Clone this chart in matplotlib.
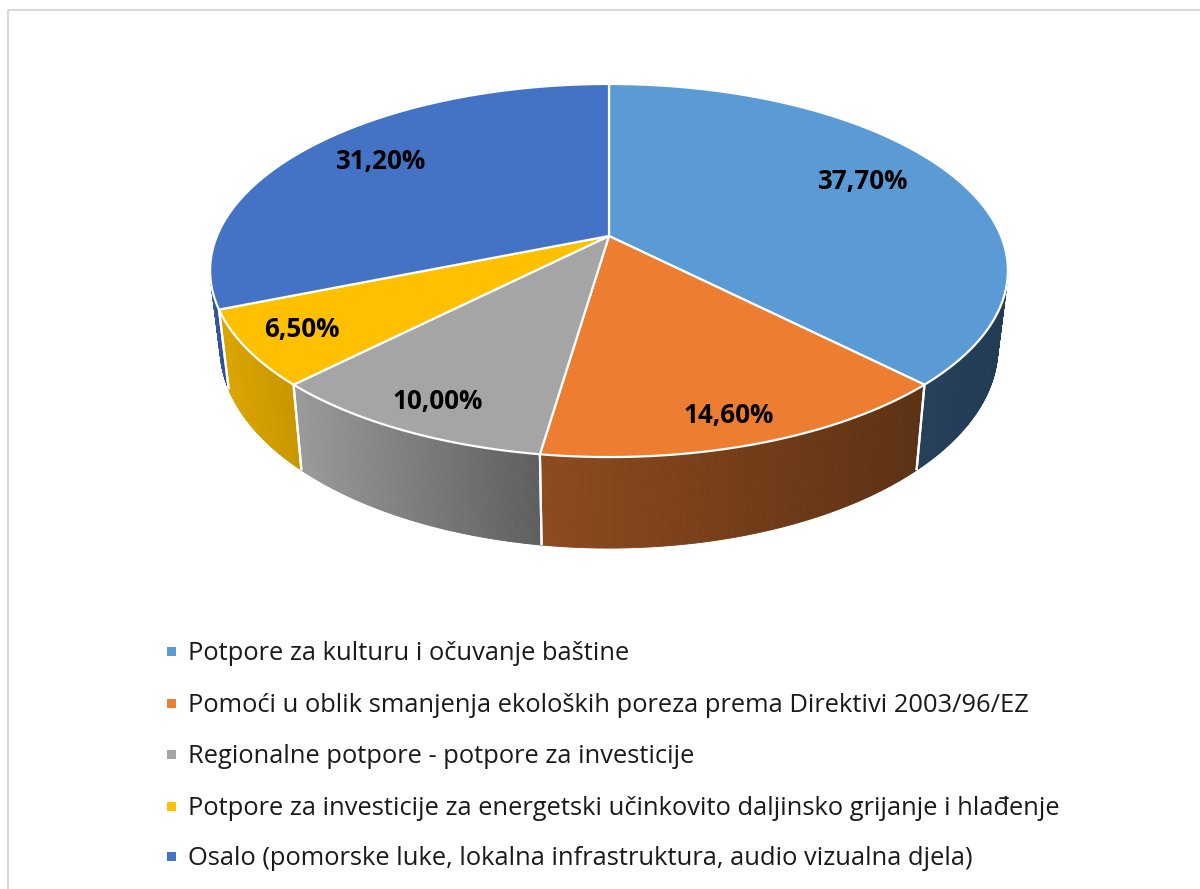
import numpy as np
import matplotlib
matplotlib.use("Agg")
import matplotlib.pyplot as plt
from matplotlib.patches import Polygon, Rectangle
from matplotlib.colors import to_rgb

# ---------------- data ----------------
categories = [
    "Potpore za kulturu i očuvanje baštine",
    "Pomoći u oblik smanjenja ekoloških poreza prema Direktivi 2003/96/EZ",
    "Regionalne potpore - potpore za investicije",
    "Potpore za investicije za energetski učinkovito daljinsko grijanje i hlađenje",
    "Osalo (pomorske luke, lokalna infrastruktura, audio vizualna djela)",
]
values = [37.7, 14.6, 10.0, 6.5, 31.2]
value_labels = ["37,70%", "14,60%", "10,00%", "6,50%", "31,20%"]

# ---------------- styles ----------------
top_colors = ["#5B9BD5", "#ED7D31", "#A5A5A5", "#FFC000", "#4472C4"]
wall_light = ["#253F5A", "#8E4A1F", "#9A9A9A", "#DCA600", "#3358A0"]
wall_dark = ["#233C56", "#5C3113", "#5E5E5E", "#C99600", "#2B4C8C"]
label_pos = [(862, 181), (729, 415), (438, 402), (302, 330), (380, 162)]

# ---------------- layout (pixel space) ----------------
W, H = 1200, 889
CX, CY = 609.0, 236.0      # apex of the pie
A, B, K = 392.0, 136.5, 0.185
DEPTH = 74.2
XS = 0.975
VIS_LO, VIS_HI = 100.7, 259.3   # visible front arc (deg clockwise from top)

fig = plt.figure(figsize=(W / 100, H / 100), dpi=100)
ax = fig.add_axes([0, 0, 1, 1])
ax.set_xlim(0, W)
ax.set_ylim(H, 0)
ax.axis("off")


def top_pt(theta, r=1.0):
    t = np.radians(theta)
    u = r * np.sin(t)
    v = r * np.cos(t)
    w = 1 + K * v
    return CX + A * u / w, (CY - B * v) / w


def bot_pt(theta):
    x, y = top_pt(theta)
    v = np.cos(np.radians(theta))
    return CX + (x - CX) * XS, y + DEPTH / (1 + K * v)


def mix(c1, c2, f):
    a = np.array(to_rgb(c1))
    b = np.array(to_rgb(c2))
    return tuple(a + (b - a) * f)


total = sum(values)
bounds = np.concatenate([[0], np.cumsum(values) / total * 360.0])

# walls
for i in range(len(values)):
    lo = max(bounds[i], VIS_LO)
    hi = min(bounds[i + 1], VIS_HI)
    if hi <= lo:
        continue
    ths = np.linspace(lo, hi, 120)
    xs_all = [top_pt(t)[0] for t in ths]
    xmin, xmax = min(xs_all), max(xs_all)
    for j in range(len(ths) - 1):
        t0, t1 = ths[j], ths[j + 1]
        p = [top_pt(t0), top_pt(t1), bot_pt(t1), bot_pt(t0)]
        xm = 0.5 * (p[0][0] + p[1][0])
        f = (xm - xmin) / (xmax - xmin) if xmax > xmin else 0.5
        c = mix(wall_light[i], wall_dark[i], f)
        ax.add_patch(Polygon(p, closed=True, facecolor=c, edgecolor=c, lw=0.6))
    # white separators at slice boundaries
    for t in (lo, hi):
        if VIS_LO < t < VIS_HI:
            p0, p1 = top_pt(t), bot_pt(t)
            ax.plot([p0[0], p1[0]], [p0[1], p1[1]], color="white", lw=1.6,
                    solid_capstyle="butt", zorder=3)

# top faces
for i in range(len(values)):
    ths = np.linspace(bounds[i], bounds[i + 1], 200)
    pts = [(CX, CY)] + [top_pt(t) for t in ths]
    ax.add_patch(Polygon(pts, closed=True, facecolor=top_colors[i],
                         edgecolor="white", lw=1.6, zorder=4))

# value labels
for (x, y), s in zip(label_pos, value_labels):
    ax.text(x, y, s, ha="center", va="center", fontsize=18.7,
            fontweight="bold", family="Open Sans", color="black", zorder=6)

# legend
rows = [651, 703, 754, 806, 856]
for y, cat, col in zip(rows, categories, top_colors):
    ax.add_patch(Rectangle((166.5, y - 4.5), 9, 9, facecolor=col,
                           edgecolor="none", zorder=6))
    ax.text(188, y + 9, cat, ha="left", va="baseline", fontsize=18.4,
            family="Open Sans", color="#1A1A1A", zorder=6)

# chart frame
ax.add_patch(Rectangle((8, 10), 1200, 900, facecolor="none",
                       edgecolor="#D9D9D9", lw=1.5, zorder=7))

fig.savefig("out.png", dpi=100)
